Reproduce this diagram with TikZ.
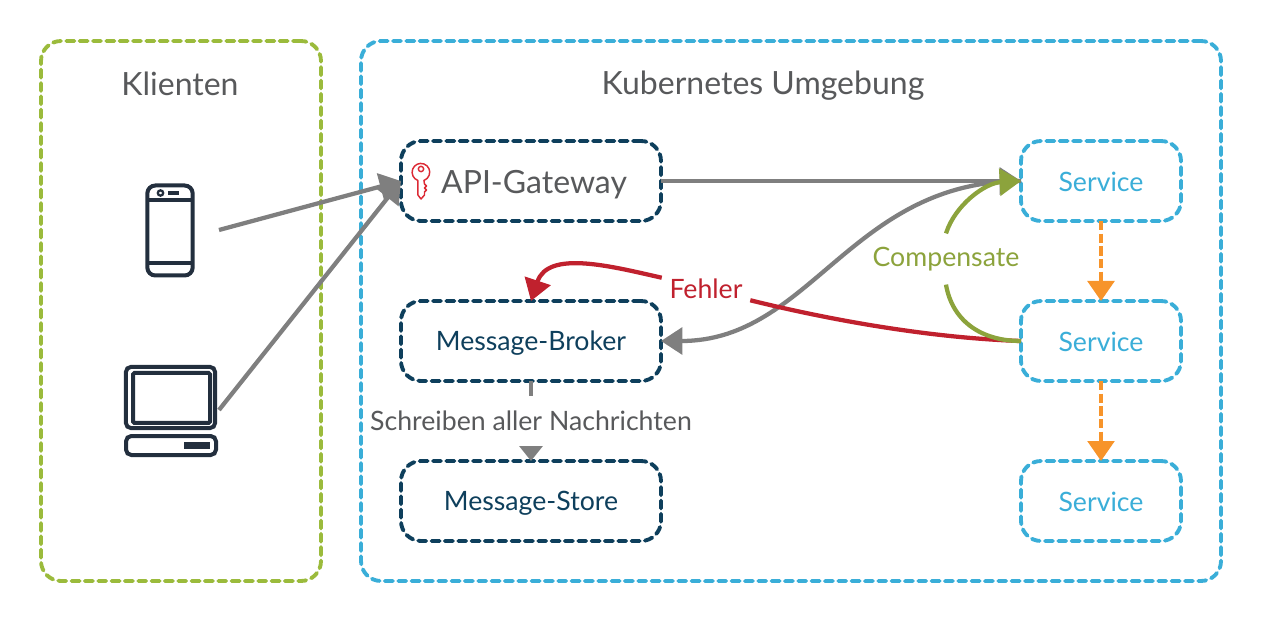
\documentclass[tikz,border=0pt]{standalone}
\usepackage{fontspec}
\setmainfont{Lato}
\usetikzlibrary{arrows.meta,positioning,calc}
\definecolor{cgreen}{HTML}{9BBB3C}
\definecolor{cblue}{HTML}{3AAED8}
\definecolor{cnavy}{HTML}{0E3F5C}
\definecolor{cgray}{HTML}{7F7F7F}
\definecolor{ctext}{HTML}{58595B}
\definecolor{cred}{HTML}{C0212E}
\definecolor{colive}{HTML}{8CA33C}
\definecolor{corange}{HTML}{F7942A}
\definecolor{cicon}{HTML}{232F3E}
\definecolor{ckey}{HTML}{DC2A35}
\tikzset{
  dashbox/.style={draw,line width=2.9pt,outer sep=0pt,line cap=round,dash pattern=on 6pt off 4pt,rounded corners=15pt,inner sep=0pt,anchor=north west},
  group/.style={dashbox,minimum height=405pt},
  navybox/.style={dashbox,draw=cnavy,text=cnavy,minimum width=195pt,minimum height=60pt,text height=18pt,font=\fontsize{20}{22}\selectfont},
  svcbox/.style={dashbox,draw=cblue,text=cblue,minimum width=120pt,minimum height=60pt,text height=16pt,font=\fontsize{20}{22}\selectfont},
  title/.style={text=ctext,font=\fontsize{24}{28}\selectfont,inner sep=0pt},
  flow/.style={draw=cgray,line width=3.2pt,-{Triangle[length=16pt,width=20pt]}},
  fail/.style={draw=cred,line width=3.2pt},
  comp/.style={draw=colive,line width=3.2pt},
  step2/.style={draw=corange,line width=2.7pt,dash pattern=on 7pt off 2.5pt,-{Triangle[length=15pt,width=20pt]}},
  iconline/.style={draw=cicon,line width=3pt,rounded corners=4pt,outer sep=0pt},
  keyline/.style={draw=ckey,line width=1.1pt,line join=round}
}
\begin{document}
\begin{tikzpicture}[x=0.75pt,y=-0.75pt]
\useasboundingbox (0,0) rectangle (1261,620);
% groups
\node[group,draw=cgreen,minimum width=210pt] (clients) at (41,41) {};
\node[group,draw=cblue,minimum width=645pt] (kube) at (361,41) {};
\node[title] (tclients) at (180,84) {Klienten};
\node[title] (tkube) at (763,86) {Kubernetes Umgebung};
% boxes
\node[navybox] (gateway) at (401,141) {};
\node[text=ctext,inner sep=0pt,font=\fontsize{24}{30}\selectfont] (gwtext) at (534,185) {API-Gateway};
\node[navybox] (broker) at (401,301) {Message-Broker};
\node[navybox] (store) at (401,461) {Message-Store};
\node[svcbox] (s1) at (1021,141) {Service};
\node[svcbox] (s2) at (1021,301) {Service};
\node[svcbox] (s3) at (1021,461) {Service};
% phone icon
\node[iconline,draw,minimum width=34pt,minimum height=67.5pt,inner sep=0pt,rounded corners=6pt] (phone) at (170,230.5) {};
\draw[iconline,line width=2.4pt] (146,200) -- (194,200);
\draw[iconline,line width=2.4pt] (146,263) -- (194,263);
\draw[draw=cicon,line width=1.7pt] (160.5,193) circle (2pt);
\fill[cicon] (168,191.5) rectangle (179,195.5);
% laptop icon
\node[iconline,draw,minimum width=67pt,minimum height=46pt,inner sep=0pt] (laptop) at (170.5,397.5) {};
\draw[iconline,rounded corners=1pt] (133,373) rectangle (210,423);
\draw[iconline] (126,436) rectangle (216,455);
\fill[cicon] (184,442) rectangle (210,449);
% key icon
\draw[keyline] (417.9,180.5) arc[start angle=250,end angle=-70,radius=6.6pt] -- (424.5,184) -- (426.5,186) -- (424.5,188) -- (426.5,190) -- (424.5,192) -- (424.5,195) -- (421,199) -- (417.9,195) -- cycle;
\draw[keyline] (421,169) circle (2pt);
% connectors
\coordinate (phoneout) at (219,230);
\coordinate (laptopout) at (219,410);
\draw[flow] (phoneout) -- (gateway.west);
\draw[flow] (laptopout) -- (gateway.west);
\draw[flow] (gateway.east) -- (s1.west);
\draw[flow] (s1.west) .. controls (851,181) and (811,341) .. (broker.east);
% labels
\node[inner sep=0pt,minimum width=66pt,minimum height=16.5pt,text=cred,font=\fontsize{20}{22}\selectfont] (fehler) at (706,289) {Fehler};
\node[inner sep=0pt,minimum height=38pt,text=colive,font=\fontsize{20}{24}\selectfont] (compensate) at (946,259) {Compensate};
\draw[fail] (s2.west) .. controls (930,338) and (830,320) .. (fehler.south east);
\draw[fail,-{Triangle[length=16pt,width=20pt]}] (fehler.north west) .. controls (610,266) and (548,250) .. (broker.north);
\draw[comp] (s2.west) .. controls (980,341) and (952,320) .. (compensate.south);
\draw[comp,-{Triangle[length=16pt,width=20pt]}] (compensate.north) .. controls (955,205) and (985,183) .. (s1.west);
\draw[step2] (s1.south) -- (s2.north);
\draw[step2] (s2.south) -- (s3.north);
\draw[flow,-{Triangle[length=12.5pt,width=19pt]}] (broker.south) -- (store.north);
\node[fill=white,inner sep=0pt,minimum height=37.5pt,text=ctext,font=\fontsize{20}{22}\selectfont] (schreiben) at (531,421) {Schreiben aller Nachrichten};
\end{tikzpicture}
\end{document}
